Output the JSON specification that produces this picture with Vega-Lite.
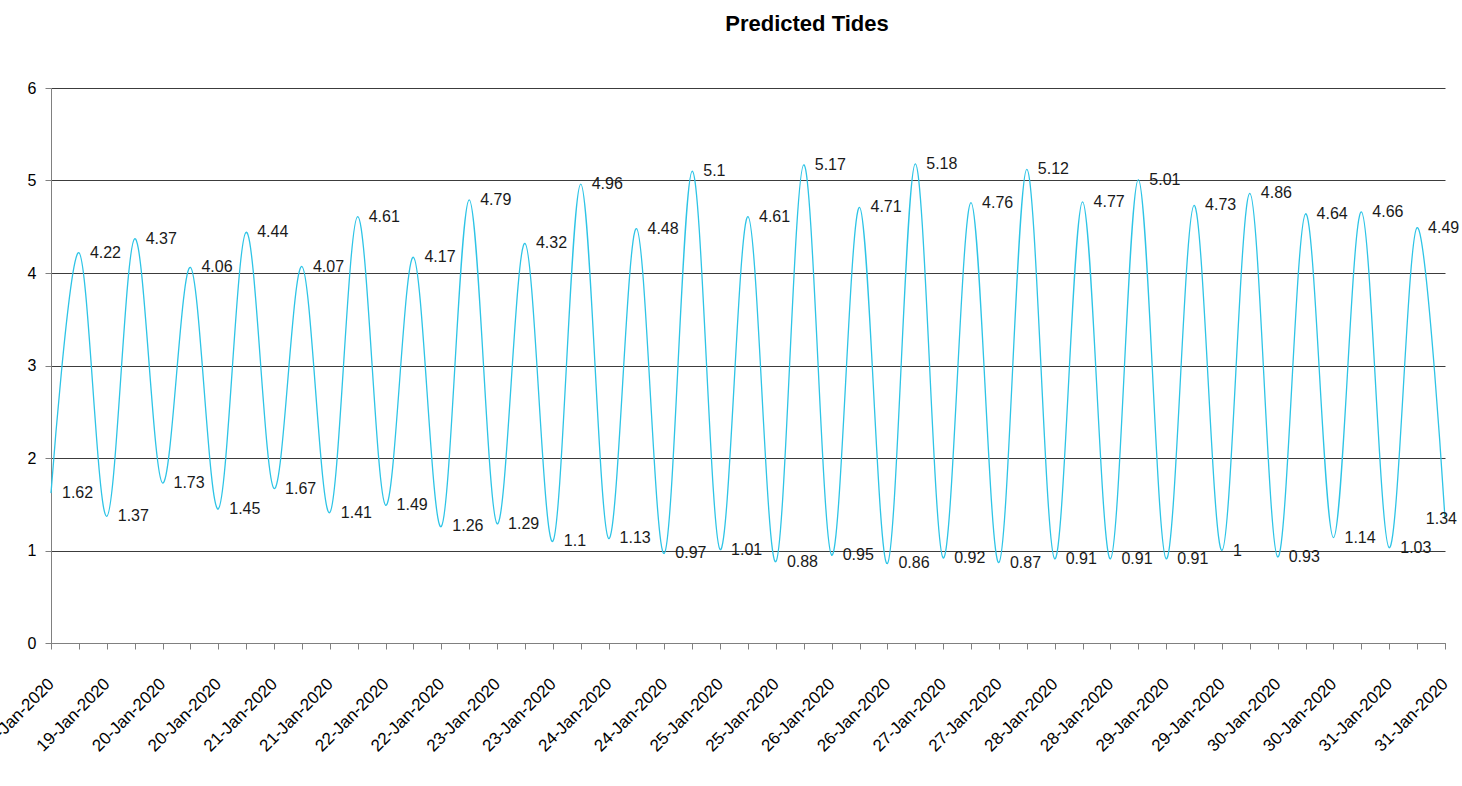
{
  "$schema": "https://vega.github.io/schema/vega-lite/v6.json",
  "width": 1394,
  "height": 555,
  "autosize": {"type": "none"},
  "padding": {"left": 51, "top": 88, "right": 17, "bottom": 143},
  "background": "white",
  "title": {"text": "Predicted Tides", "font": "Liberation Sans", "fontSize": 22, "fontWeight": "bold", "color": "#000000", "anchor": "middle", "frame": "group", "dx": 59, "offset": 27, "baseline": "alphabetic"},
  "config": {"view": {"stroke": null}, "font": "Liberation Sans"},
  "data": {"values": [
    {"tide": "19-Jan-2020 1", "height": 1.62},
    {"tide": "19-Jan-2020 2", "height": 4.22},
    {"tide": "19-Jan-2020 3", "height": 1.37},
    {"tide": "19-Jan-2020 4", "height": 4.37},
    {"tide": "20-Jan-2020 1", "height": 1.73},
    {"tide": "20-Jan-2020 2", "height": 4.06},
    {"tide": "20-Jan-2020 3", "height": 1.45},
    {"tide": "20-Jan-2020 4", "height": 4.44},
    {"tide": "21-Jan-2020 1", "height": 1.67},
    {"tide": "21-Jan-2020 2", "height": 4.07},
    {"tide": "21-Jan-2020 3", "height": 1.41},
    {"tide": "21-Jan-2020 4", "height": 4.61},
    {"tide": "22-Jan-2020 1", "height": 1.49},
    {"tide": "22-Jan-2020 2", "height": 4.17},
    {"tide": "22-Jan-2020 3", "height": 1.26},
    {"tide": "22-Jan-2020 4", "height": 4.79},
    {"tide": "23-Jan-2020 1", "height": 1.29},
    {"tide": "23-Jan-2020 2", "height": 4.32},
    {"tide": "23-Jan-2020 3", "height": 1.1},
    {"tide": "23-Jan-2020 4", "height": 4.96},
    {"tide": "24-Jan-2020 1", "height": 1.13},
    {"tide": "24-Jan-2020 2", "height": 4.48},
    {"tide": "24-Jan-2020 3", "height": 0.97},
    {"tide": "24-Jan-2020 4", "height": 5.1},
    {"tide": "25-Jan-2020 1", "height": 1.01},
    {"tide": "25-Jan-2020 2", "height": 4.61},
    {"tide": "25-Jan-2020 3", "height": 0.88},
    {"tide": "25-Jan-2020 4", "height": 5.17},
    {"tide": "26-Jan-2020 1", "height": 0.95},
    {"tide": "26-Jan-2020 2", "height": 4.71},
    {"tide": "26-Jan-2020 3", "height": 0.86},
    {"tide": "26-Jan-2020 4", "height": 5.18},
    {"tide": "27-Jan-2020 1", "height": 0.92},
    {"tide": "27-Jan-2020 2", "height": 4.76},
    {"tide": "27-Jan-2020 3", "height": 0.87},
    {"tide": "27-Jan-2020 4", "height": 5.12},
    {"tide": "28-Jan-2020 1", "height": 0.91},
    {"tide": "28-Jan-2020 2", "height": 4.77},
    {"tide": "28-Jan-2020 3", "height": 0.91},
    {"tide": "28-Jan-2020 4", "height": 5.01},
    {"tide": "29-Jan-2020 1", "height": 0.91},
    {"tide": "29-Jan-2020 2", "height": 4.73},
    {"tide": "29-Jan-2020 3", "height": 1},
    {"tide": "29-Jan-2020 4", "height": 4.86},
    {"tide": "30-Jan-2020 1", "height": 0.93},
    {"tide": "30-Jan-2020 2", "height": 4.64},
    {"tide": "30-Jan-2020 3", "height": 1.14},
    {"tide": "30-Jan-2020 4", "height": 4.66},
    {"tide": "31-Jan-2020 1", "height": 1.03},
    {"tide": "31-Jan-2020 2", "height": 4.49},
    {"tide": "31-Jan-2020 3", "height": 1.34}
  ]},
  "encoding": {
    "x": {
      "field": "tide", "type": "ordinal", "sort": null,
      "scale": {"type": "point", "padding": 0},
      "axis": {
        "title": null, "labelAngle": -45, "labelAlign": "right", "labelBaseline": "middle",
        "labelPadding": 32, "labelFontSize": 17, "labelColor": "#000000", "labelFont": "Liberation Sans",
        "labelExpr": "round(datum.index * 50) % 2 === 0 ? split(datum.value, ' ')[0] : ''",
        "labelOverlap": false, "tickSize": 6, "tickColor": "#808080", "domainColor": "#808080", "grid": false
      }
    },
    "y": {
      "field": "height", "type": "quantitative",
      "scale": {"domain": [0, 6], "nice": false},
      "axis": {
        "title": null, "values": [0, 1, 2, 3, 4, 5, 6], "grid": true, "gridColor": "#3c3c3c", "gridWidth": 1,
        "tickSize": 6, "tickColor": "#808080", "domainColor": "#808080",
        "labelFontSize": 16, "labelPadding": 9, "labelColor": "#000000", "labelFont": "Liberation Sans"
      }
    }
  },
  "layer": [
    {"mark": {"type": "line", "interpolate": "cardinal", "color": "#2EC4E6", "strokeWidth": 1.3}},
    {"transform": [{"filter": "datum.tide !== '31-Jan-2020 3'"}],
     "mark": {"type": "text", "align": "left", "baseline": "middle", "dx": 11, "fontSize": 16, "color": "#1a1a1a", "font": "Liberation Sans"},
     "encoding": {"text": {"field": "height", "type": "nominal"}}},
    {"transform": [{"filter": "datum.tide === '31-Jan-2020 3'"}],
     "mark": {"type": "text", "align": "right", "baseline": "middle", "dx": 12, "fontSize": 16, "color": "#1a1a1a", "font": "Liberation Sans"},
     "encoding": {"text": {"field": "height", "type": "nominal"}}}
  ]
}
